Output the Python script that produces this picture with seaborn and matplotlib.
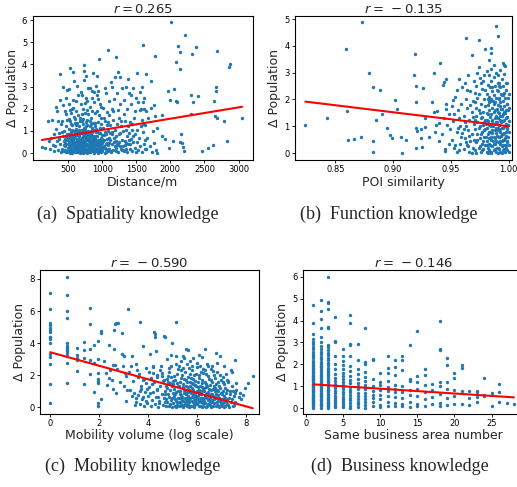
import numpy as np
import pandas as pd
import matplotlib
matplotlib.use("Agg")
import matplotlib.pyplot as plt
import seaborn as sns

# correlation shown above each panel
r_values = [0.265, -0.135, -0.590, -0.146]
# fitted line: (intercept, slope)
fit_lines = [(0.53, 0.000511), (6.23, -5.23), (3.43, -0.422), (1.112, -0.022)]

x_labels = ["Distance/m", "POI similarity", "Mobility volume (log scale)",
            "Same business area number"]
captions = ["(a)  Spatiality knowledge", "(b)  Function knowledge",
            "(c)  Mobility knowledge", "(d)  Business knowledge"]

# (a) distance vs delta population
dist_pts = [
    (2007, 5.92), (2210, 5.35), (2118, 4.82), (2147, 4.56), (2380, 4.8), (2322, 4.47), (2685, 4.62),
    (2080, 4.11), (2143, 3.81), (2880, 4.0), (2855, 3.87), (1595, 4.89), (1086, 4.64), (1198, 4.34),
    (1227, 3.64), (950, 4.26), (737, 3.99), (529, 3.86), (568, 3.66), (379, 3.57), (863, 3.61),
    (926, 3.46), (1517, 3.63), (1648, 3.58), (1720, 3.24), (1779, 4.40), (1968, 2.8), (1992, 2.39),
    (2080, 2.33), (2099, 2.32), (2297, 2.64), (2331, 2.32), (2404, 2.56), (2636, 2.33), (2665, 2.97),
    (2675, 2.79), (2651, 1.67), (2685, 1.58), (2782, 1.43), (3053, 1.58), (2825, 0.54), (2549, 0.24),
    (2467, 0.08), (2621, 0.36), (2036, 0.56), (2138, 0.5), (2172, 0.44), (2162, 0.86), (2182, 0.27),
    (2201, 0.08), (1978, 0.23), (2050, 2.9), (2297, 1.75), (1765, 2.18), (1774, 1.66), (1876, 1.72),
    (1803, 1.14), (1881, 0.77), (1924, 0.65), (1803, 0.0), (1600, 1.31), (1634, 0.2), (117, 0.27),
    (160, 0.25), (200, 1.45), (215, 0.55), (240, 0.2), (260, 1.5), (280, 0.35), (300, 0.85), (290, 0.1),
    (250, 0.7), (310, 0.3), (320, 1.1), (330, 2.1), (340, 0.55), (350, 1.45), (360, 0.15), (370, 0.9),
    (380, 2.4), (390, 0.05), (395, 1.3), (345, 1.9), (365, 0.65), (385, 0.4),
    (405, 0.2), (410, 1.45), (420, 2.15), (425, 0.75), (430, 3.0), (440, 0.1), (445, 1.0), (450, 1.9),
    (455, 0.45), (460, 0.3), (465, 1.2), (470, 2.5), (475, 0.05), (480, 0.6), (485, 1.5), (490, 0.85),
    (495, 0.25), (415, 0.95), (435, 0.35), (478, 2.85), (468, 1.75),
    (505, 0.1), (510, 0.5), (515, 1.1), (520, 2.2), (525, 0.3), (530, 0.75), (535, 1.45), (540, 0.05),
    (545, 0.95), (550, 1.8), (555, 0.4), (560, 0.2), (565, 1.25), (570, 2.4), (575, 0.6), (580, 0.15),
    (585, 1.0), (590, 3.25), (595, 0.35), (502, 0.65), (512, 1.55), (522, 0.0), (532, 0.25), (542, 0.85),
    (552, 2.0), (562, 0.55), (572, 0.1), (582, 1.65), (592, 0.45), (598, 0.9), (548, 1.3), (558, 0.7),
    (568, 0.3), (578, 2.05), (588, 0.5), (518, 2.9), (528, 1.95),
    (605, 0.05), (610, 0.4), (615, 1.0), (620, 1.9), (625, 0.2), (630, 0.65), (635, 1.35), (640, 0.1),
    (645, 0.8), (650, 2.6), (655, 0.35), (660, 0.15), (665, 1.2), (670, 0.55), (675, 0.0), (680, 1.6),
    (685, 0.3), (690, 0.9), (695, 2.2), (602, 0.75), (612, 0.25), (622, 1.1), (632, 0.45), (642, 1.7),
    (652, 0.05), (662, 0.6), (672, 1.45), (682, 0.2), (692, 0.5), (698, 1.05), (618, 2.35), (638, 3.05),
    (658, 0.85), (678, 0.4), (688, 2.75), (648, 0.3), (628, 0.9), (668, 0.1), (608, 1.55), (696, 0.15),
    (705, 0.1), (710, 0.6), (715, 1.3), (720, 2.0), (725, 0.3), (730, 0.85), (735, 3.7), (740, 0.05),
    (745, 1.1), (750, 1.8), (755, 0.45), (760, 0.2), (765, 2.5), (770, 0.7), (775, 0.0), (780, 1.5),
    (785, 0.35), (790, 1.0), (795, 2.95), (702, 0.4), (712, 0.15), (722, 1.55), (732, 0.55), (742, 2.25),
    (752, 0.25), (762, 0.95), (772, 1.95), (782, 0.1), (792, 0.65), (798, 0.3), (718, 0.75), (728, 1.15),
    (738, 0.2), (748, 0.5), (758, 1.4), (768, 0.05), (778, 0.8), (788, 1.75), (708, 2.6), (727, 3.3),
    (757, 3.5), (784, 2.35),
    (805, 0.05), (810, 0.5), (815, 1.2), (820, 2.1), (825, 0.25), (830, 0.8), (835, 1.6), (840, 0.1),
    (845, 2.8), (850, 0.45), (855, 0.95), (860, 0.15), (865, 1.35), (870, 0.6), (875, 2.3), (880, 0.0),
    (885, 1.05), (890, 0.35), (895, 1.8), (802, 0.7), (812, 0.2), (822, 1.45), (832, 0.4), (842, 0.9),
    (852, 2.5), (862, 0.3), (872, 0.1), (882, 0.55), (892, 1.2), (898, 0.2), (818, 2.95), (838, 1.0),
    (858, 1.9), (878, 0.75), (888, 2.75), (828, 0.05), (848, 0.6), (868, 0.25),
    (905, 0.1), (910, 0.5), (915, 1.1), (920, 1.9), (925, 0.3), (930, 0.75), (935, 2.8), (940, 0.0),
    (945, 1.4), (950, 0.4), (955, 0.9), (960, 0.15), (965, 2.2), (970, 0.6), (975, 1.15), (980, 0.05),
    (985, 0.3), (990, 1.6), (995, 0.8), (902, 0.65), (912, 0.2), (922, 1.0), (932, 0.35), (942, 2.45),
    (952, 0.1), (962, 0.55), (972, 0.25), (982, 1.3), (992, 0.45), (908, 3.05), (928, 2.6), (948, 1.7),
    (968, 0.9), (988, 2.1),
    (1005, 0.1), (1010, 0.55), (1015, 1.15), (1020, 2.05), (1025, 0.3), (1030, 0.8), (1035, 1.45),
    (1040, 0.0), (1045, 0.95), (1050, 2.7), (1055, 0.4), (1060, 0.2), (1065, 1.25), (1070, 0.65),
    (1075, 1.85), (1080, 0.1), (1085, 0.35), (1090, 1.0), (1095, 2.35), (1012, 0.25), (1032, 0.6),
    (1052, 0.05), (1072, 0.45), (1092, 0.15), (1022, 1.6), (1062, 0.85), (1082, 1.4), (1042, 2.95),
    (1098, 0.7),
    (1105, 0.2), (1110, 0.6), (1120, 1.25), (1125, 3.2), (1130, 0.05), (1140, 0.85), (1145, 2.0),
    (1150, 0.4), (1160, 1.5), (1165, 0.15), (1170, 2.45), (1180, 0.7), (1185, 0.3), (1190, 1.05),
    (1195, 3.45), (1115, 0.9), (1135, 0.1), (1155, 1.9), (1175, 0.5), (1198, 0.25), (1108, 1.7),
    (1142, 3.0),
    (1205, 0.1), (1210, 0.75), (1220, 1.3), (1225, 2.7), (1230, 0.35), (1240, 0.05), (1245, 1.6),
    (1250, 0.5), (1260, 2.2), (1265, 0.9), (1270, 0.2), (1280, 1.2), (1285, 0.6), (1290, 2.95),
    (1295, 0.15), (1215, 0.4), (1235, 1.95), (1255, 0.3), (1275, 1.45), (1258, 3.45),
    (1305, 0.3), (1310, 1.0), (1320, 2.4), (1325, 0.1), (1330, 0.55), (1340, 1.45), (1345, 0.2),
    (1350, 3.0), (1360, 0.75), (1365, 2.0), (1370, 0.05), (1380, 1.2), (1385, 0.4), (1390, 2.7),
    (1395, 0.9), (1315, 1.75), (1335, 0.35), (1355, 1.05), (1375, 3.35), (1398, 0.6),
    (1405, 0.2), (1410, 1.4), (1420, 0.65), (1430, 2.2), (1440, 0.1), (1445, 1.05), (1450, 2.95),
    (1460, 0.5), (1470, 1.6), (1475, 0.25), (1480, 0.85), (1490, 2.5), (1495, 0.05), (1415, 0.4),
    (1435, 1.3), (1455, 0.75), (1485, 1.9), (1425, 2.6),
    (1505, 0.5), (1510, 1.05), (1520, 2.3), (1530, 0.15), (1540, 0.7), (1550, 1.95), (1560, 0.3),
    (1570, 2.0), (1580, 1.5), (1590, 0.05), (1600, 0.95), (1610, 2.0), (1615, 0.4), (1620, 2.5),
    (1625, 1.25), (1640, 0.2), (1645, 1.9), (1552, 2.75), (1582, 3.0), (1605, 2.3), (1630, 0.6),
    (1565, 1.2), (1660, 0.7), (1680, 1.6), (1700, 0.3), (1720, 2.05), (1730, 0.05), (1750, 1.0),
    (1760, 0.45), (1790, 0.15),
    (520, 0.42), (545, 0.12), (575, 0.78), (605, 0.52), (630, 0.08), (655, 0.62), (680, 0.9),
    (705, 0.28), (725, 0.0), (748, 0.72), (770, 0.38), (795, 0.12), (815, 0.82), (840, 0.55),
    (860, 0.62), (885, 0.15), (905, 0.95), (930, 0.2), (955, 0.52), (975, 0.4), (640, 0.58),
    (690, 0.05), (735, 0.98), (765, 1.2), (800, 0.9), (560, 1.05), (610, 1.25), (660, 1.0),
    (710, 1.45), (760, 0.68), (850, 1.15), (900, 1.35), (470, 0.75), (440, 0.55), (1000, 0.65),
    (1045, 0.22), (1100, 0.45), (1150, 0.95), (1200, 0.55), (1250, 0.85), (1300, 0.15), (1350, 0.45),
    (455, 0.62), (462, 0.12), (476, 0.4), (488, 0.05), (497, 0.7), (508, 0.3), (516, 0.85), (524, 0.15),
    (537, 0.55), (546, 0.35), (553, 0.8), (563, 0.02), (571, 0.45), (583, 0.28), (591, 0.68), (603, 0.18),
    (614, 0.82), (621, 0.38), (633, 0.6), (644, 0.22), (651, 0.48), (663, 0.75), (671, 0.32), (683, 0.58),
    (693, 0.08), (701, 0.7), (713, 0.45), (723, 0.6), (733, 0.12), (743, 0.35), (753, 0.85), (763, 0.42),
    (773, 0.18), (783, 0.6), (793, 0.82), (803, 0.35), (813, 0.6), (823, 0.15), (833, 0.72), (843, 0.3),
    (853, 0.2), (863, 0.78), (873, 0.45), (883, 0.32), (893, 0.65), (903, 0.4), (913, 0.75), (923, 0.1),
    (933, 0.6), (943, 0.32), (963, 0.3), (983, 0.7), (993, 0.15), (615, 0.05), (735, 0.5), (655, 1.05),
    (785, 1.25), (545, 0.65), (725, 1.0), (840, 1.3), (600, 1.35), (700, 1.75),
]

# (b) POI similarity vs delta population
poi_pts = [
    (0.824, 1.05), (0.843, 1.31), (0.859, 3.9), (0.860, 1.56), (0.861, 0.5), (0.866, 0.52), (0.872, 0.59),
    (0.873, 4.9), (0.879, 2.99), (0.883, 2.47), (0.883, 0.44), (0.883, 0.05), (0.885, 1.22), (0.889, 2.36),
    (0.890, 1.47), (0.895, 0.94), (0.897, 0.66), (0.899, 0.56), (0.902, 1.97), (0.903, 1.65), (0.907, 0.6),
    (0.908, 0.0), (0.911, 0.5), (0.918, 2.9), (0.919, 3.69), (0.920, 2.52), (0.920, 1.9), (0.920, 0.94),
    (0.921, 0.81), (0.920, 0.19), (0.924, 0.91), (0.924, 0.56), (0.926, 2.44), (0.928, 1.31), (0.928, 0.97),
    (0.925, 0.24), (0.931, 0.6), (0.934, 1.92), (0.935, 2.99), (0.935, 1.55), (0.937, 1.04), (0.938, 1.56),
    (0.940, 1.11), (0.941, 3.38), (0.943, 2.53), (0.944, 2.65), (0.945, 0.16), (0.945, 0.06), (0.946, 2.78),
    (0.946, 1.82), (0.946, 1.66), (0.947, 1.04), (0.948, 1.47), (0.952, 1.98), (0.955, 2.36),
    (0.989, 4.75), (0.991, 4.36), (0.963, 4.3), (0.974, 4.21), (0.968, 3.68), (0.980, 3.9), (0.985, 3.93),
    (0.985, 3.75), (0.995, 3.38), (0.996, 3.3), (0.987, 3.28), (0.983, 3.47),
    (0.936, 0.8), (0.940, 0.45), (0.942, 0.7), (0.948, 0.35), (0.944, 1.3), (0.949, 0.9),
    (0.951, 0.5), (0.952, 1.2), (0.953, 0.2), (0.954, 2.1), (0.955, 0.8), (0.956, 1.6), (0.957, 0.1),
    (0.957, 2.75), (0.958, 0.35), (0.958, 1.0), (0.959, 1.85), (0.959, 0.6), (0.960, 2.45), (0.953, 1.45),
    (0.955, 0.05), (0.956, 0.95), (0.951, 1.75), (0.954, 0.3), (0.957, 1.3), (0.960, 0.75),
    (0.961, 0.15), (0.961, 1.4), (0.962, 2.6), (0.962, 0.55), (0.963, 1.0), (0.963, 2.0), (0.964, 0.3),
    (0.964, 1.7), (0.965, 0.85), (0.965, 2.9), (0.966, 0.05), (0.966, 1.25), (0.967, 0.45), (0.967, 2.3),
    (0.968, 1.55), (0.968, 0.7), (0.969, 0.2), (0.969, 1.95), (0.970, 1.1), (0.970, 2.7), (0.961, 0.9),
    (0.963, 0.4), (0.964, 2.35), (0.966, 0.65), (0.967, 1.8), (0.968, 0.0), (0.969, 1.35), (0.962, 1.15),
    (0.965, 0.25), (0.970, 0.5),
    (0.971, 0.1), (0.971, 0.9), (0.971, 1.9), (0.972, 0.4), (0.972, 1.4), (0.972, 2.5), (0.973, 0.7),
    (0.973, 1.15), (0.973, 3.0), (0.974, 0.2), (0.974, 1.6), (0.974, 2.2), (0.975, 0.55), (0.975, 1.0),
    (0.975, 2.8), (0.976, 0.05), (0.976, 1.3), (0.976, 1.85), (0.977, 0.35), (0.977, 0.8), (0.977, 2.4),
    (0.978, 1.05), (0.978, 1.55), (0.978, 0.15), (0.979, 0.6), (0.979, 2.0), (0.979, 2.9), (0.980, 0.3),
    (0.980, 1.25), (0.980, 1.75), (0.971, 1.25), (0.972, 0.0), (0.973, 2.05), (0.974, 0.95), (0.975, 0.25),
    (0.976, 2.6), (0.977, 1.35), (0.978, 0.45), (0.979, 1.15), (0.980, 2.35), (0.971, 2.25), (0.973, 0.5),
    (0.975, 1.5), (0.977, 0.1), (0.979, 0.85), (0.976, 0.7), (0.974, 3.2), (0.978, 2.7), (0.972, 1.7),
    (0.980, 0.9),
    (0.981, 0.05), (0.981, 0.45), (0.981, 0.95), (0.981, 1.5), (0.981, 2.2), (0.981, 3.05),
    (0.982, 0.2), (0.982, 0.7), (0.982, 1.2), (0.982, 1.8), (0.982, 2.55),
    (0.983, 0.1), (0.983, 0.55), (0.983, 1.05), (0.983, 1.6), (0.983, 2.1), (0.983, 2.9),
    (0.984, 0.3), (0.984, 0.8), (0.984, 1.35), (0.984, 1.95), (0.984, 2.45),
    (0.985, 0.0), (0.985, 0.5), (0.985, 1.0), (0.985, 1.45), (0.985, 2.0), (0.985, 2.7), (0.985, 3.15),
    (0.986, 0.25), (0.986, 0.75), (0.986, 1.25), (0.986, 1.7), (0.986, 2.3),
    (0.987, 0.1), (0.987, 0.6), (0.987, 1.1), (0.987, 1.55), (0.987, 2.15), (0.987, 2.85),
    (0.988, 0.35), (0.988, 0.85), (0.988, 1.3), (0.988, 1.9), (0.988, 2.5),
    (0.989, 0.05), (0.989, 0.45), (0.989, 0.95), (0.989, 1.4), (0.989, 2.05), (0.989, 3.0),
    (0.990, 0.2), (0.990, 0.65), (0.990, 1.15), (0.990, 1.65), (0.990, 2.35),
    (0.9815, 0.3), (0.9825, 1.45), (0.9835, 0.8), (0.9845, 0.05), (0.9855, 1.2), (0.9865, 0.45),
    (0.9875, 1.85), (0.9885, 0.15), (0.9895, 1.15), (0.9805, 0.6), (0.9815, 1.25), (0.9825, 0.0),
    (0.9835, 1.9), (0.9845, 0.6), (0.9855, 2.45), (0.9865, 1.0), (0.9875, 0.35), (0.9885, 1.6),
    (0.9895, 0.75), (0.9835, 0.35), (0.9865, 1.95), (0.9885, 0.55), (0.9855, 0.85), (0.9825, 2.0),
    (0.9805, 1.1),
    (0.991, 0.0), (0.991, 0.4), (0.991, 0.85), (0.991, 1.3), (0.991, 1.8), (0.991, 2.3), (0.991, 2.9),
    (0.992, 0.15), (0.992, 0.6), (0.992, 1.05), (0.992, 1.5), (0.992, 2.0), (0.992, 2.6),
    (0.993, 0.05), (0.993, 0.45), (0.993, 0.9), (0.993, 1.4), (0.993, 1.9), (0.993, 2.45), (0.993, 3.1),
    (0.994, 0.25), (0.994, 0.7), (0.994, 1.2), (0.994, 1.65), (0.994, 2.15), (0.994, 2.75),
    (0.995, 0.1), (0.995, 0.5), (0.995, 0.95), (0.995, 1.45), (0.995, 1.95), (0.995, 2.5),
    (0.996, 0.3), (0.996, 0.75), (0.996, 1.25), (0.996, 1.75), (0.996, 2.25), (0.996, 2.95),
    (0.997, 0.05), (0.997, 0.55), (0.997, 1.0), (0.997, 1.5), (0.997, 2.05), (0.997, 3.25),
    (0.998, 0.2), (0.998, 0.65), (0.998, 1.1), (0.998, 1.6), (0.998, 2.35),
    (0.999, 0.1), (0.999, 0.45), (0.999, 0.9), (0.999, 1.35), (0.999, 1.85), (0.999, 2.6),
    (1.000, 0.3), (1.000, 0.8), (1.000, 1.2), (1.000, 1.7), (1.000, 2.2), (1.000, 0.05),
    (0.9905, 0.2), (0.9915, 1.05), (0.9925, 0.35), (0.9935, 1.15), (0.9945, 0.0), (0.9955, 0.7),
    (0.9965, 0.15), (0.9975, 0.8), (0.9985, 0.4), (0.9995, 1.05), (0.9905, 1.55), (0.9915, 0.6),
    (0.9925, 1.75), (0.9935, 0.65), (0.9945, 1.4), (0.9955, 0.3), (0.9965, 1.55), (0.9975, 0.3),
    (0.9985, 1.85), (0.9995, 0.6), (0.9905, 2.6), (0.9915, 2.05), (0.9925, 1.25), (0.9935, 2.2),
    (0.9945, 0.45), (0.9955, 2.15), (0.9965, 1.0), (0.9975, 1.3), (0.9985, 0.95), (0.9995, 2.05),
    (0.9905, 0.95), (0.9925, 0.8), (0.9945, 0.95), (0.9965, 0.5), (0.9985, 1.35), (0.9915, 2.5),
    (0.9955, 1.2), (0.9975, 2.6), (0.9995, 1.6), (0.9935, 1.65),
]

# (c) mobility volume (log) vs delta population
mob_pts = [
    (0.0, 7.15), (0.0, 6.11), (0.0, 5.24), (0.0, 5.11), (0.0, 4.97), (0.0, 4.83), (0.0, 4.7), (0.0, 4.41),
    (0.0, 4.35), (0.0, 4.24), (0.0, 4.03), (0.0, 3.3), (0.0, 3.16), (0.0, 2.72), (0.0, 1.48), (0.0, 0.29),
    (0.693, 8.15), (0.693, 7.03), (0.693, 5.99), (0.693, 5.55), (0.693, 3.99), (0.693, 3.83), (0.693, 3.72),
    (0.693, 3.62), (0.693, 3.51), (0.693, 3.37), (0.693, 3.2), (0.693, 2.79), (0.693, 1.54),
    (1.099, 3.72), (1.099, 3.24), (1.099, 3.1), (1.099, 2.95), (1.099, 2.27),
    (1.386, 4.07), (1.386, 3.56), (1.386, 3.1), (1.386, 1.48),
    (1.609, 6.2), (1.609, 5.17), (1.609, 3.62), (1.609, 2.93), (1.609, 2.06),
    (1.792, 3.87), (1.792, 2.79), (1.792, 0.96),
    (1.946, 4.12), (1.946, 3.0), (1.946, 2.12), (1.946, 1.75), (1.946, 1.64), (1.946, 1.5), (1.946, 0.29),
    (1.946, 0.06), (2.079, 4.74), (2.079, 4.66), (2.079, 0.5),
    (2.28, 2.16), (2.3, 1.4), (2.38, 3.87), (2.52, 1.7), (2.6, 4.8), (2.6, 3.62), (2.66, 5.17), (2.69, 5.28),
    (2.77, 5.28), (2.57, 1.12), (2.64, 2.66), (2.74, 2.37), (2.93, 4.66), (2.93, 3.3), (3.01, 3.2),
    (2.98, 2.58), (3.04, 2.16), (3.09, 1.95), (3.12, 1.08), (3.09, 0.4), (3.16, 6.11), (3.32, 3.2),
    (3.31, 2.58), (3.37, 1.64), (3.42, 0.91), (3.5, 2.68), (3.56, 2.33), (3.61, 2.06), (3.5, 0.6),
    (3.47, 0.12), (3.65, 5.32), (3.66, 1.02), (3.72, 1.33), (3.8, 3.83), (3.84, 1.75), (3.8, 0.64),
    (3.91, 0.4), (3.95, 1.12), (4.02, 2.2), (4.09, 3.3), (4.07, 0.91), (4.14, 1.43), (4.18, 2.58),
    (4.21, 2.16), (4.24, 4.68), (4.28, 4.55), (4.29, 4.39), (4.32, 3.51), (4.35, 1.89), (4.37, 1.12),
    (4.41, 0.64), (4.43, 0.29), (4.52, 2.58), (4.56, 2.16), (4.59, 1.64), (4.65, 4.45), (4.67, 4.41),
    (4.7, 0.81), (4.73, 1.33), (4.77, 2.99), (4.81, 1.95), (4.86, 2.47), (4.94, 3.24), (4.97, 4.03),
    (5.0, 1.64), (5.14, 5.34),
    (5.54, 3.66), (5.61, 3.58), (5.84, 3.04), (6.09, 3.24), (6.34, 3.66), (6.19, 3.16), (6.43, 2.58),
    (6.77, 3.37), (6.95, 3.2), (7.11, 2.58), (6.81, 2.79), (6.57, 2.37), (6.23, 2.16), (5.71, 2.89),
    (5.41, 2.47), (5.79, 2.58), (5.27, 2.58), (5.14, 3.2), (5.44, 3.2), (6.0, 2.79),
    (8.27, 1.95), (8.08, 1.54), (7.86, 0.75), (7.75, 0.91), (7.59, 1.5), (7.53, 2.93), (7.42, 2.2),
    (7.04, 1.89), (7.28, 1.64), (7.56, 0.91), (7.7, 0.67), (7.97, 1.23), (7.81, 0.5),
    (2.55, 2.62), (2.41, 1.81), (3.25, 1.1), (3.35, 0.7), (3.0, 1.3), (2.85, 1.6), (2.7, 0.9), (3.2, 2.2),
    (2.45, 2.3), (2.2, 2.9),
    (3.52, 0.3), (3.58, 0.75), (3.65, 0.2), (3.7, 1.15), (3.75, 0.5), (3.82, 0.05), (3.86, 0.95),
    (3.9, 1.5), (3.95, 0.25), (4.0, 0.7), (4.05, 1.25), (4.1, 0.1), (4.15, 0.45), (4.2, 0.95), (4.25, 1.55),
    (4.28, 0.2), (4.33, 0.65), (4.38, 1.05), (4.42, 0.0), (4.46, 0.4), (4.5, 1.35), (4.55, 0.8),
    (4.6, 0.15), (4.63, 1.7), (4.66, 0.55), (4.7, 1.0), (4.68, 0.3), (3.6, 1.9), (3.78, 1.7), (4.12, 1.8),
    (4.36, 2.0), (4.48, 2.3), (4.2, 2.5), (3.92, 2.45), (4.58, 1.95),
    (4.72, 0.1), (4.74, 0.5), (4.76, 1.2), (4.78, 0.3), (4.8, 0.8), (4.82, 1.6), (4.84, 0.05), (4.86, 0.65),
    (4.88, 1.05), (4.9, 0.2), (4.92, 1.9), (4.94, 0.45), (4.96, 1.35), (4.98, 0.0), (5.0, 0.9), (4.85, 2.2),
    (4.95, 2.6), (4.75, 1.75), (4.9, 1.5), (4.98, 0.55),
    (5.02, 0.25), (5.04, 0.7), (5.06, 1.15), (5.08, 0.05), (5.1, 1.7), (5.12, 0.4), (5.14, 0.95),
    (5.16, 2.1), (5.18, 0.15), (5.2, 0.6), (5.22, 1.3), (5.24, 0.3), (5.05, 1.95), (5.13, 0.0), (5.21, 1.0),
    (5.09, 0.5), (5.17, 1.5), (5.23, 2.4), (5.11, 0.8), (5.19, 0.35), (5.03, 1.45), (5.15, 2.7),
    (5.26, 0.1), (5.28, 0.55), (5.3, 1.0), (5.32, 1.55), (5.34, 0.2), (5.36, 0.75), (5.38, 2.0),
    (5.4, 0.05), (5.42, 1.25), (5.44, 0.4), (5.46, 0.9), (5.48, 1.75), (5.27, 1.3), (5.31, 0.3),
    (5.35, 2.3), (5.39, 0.65), (5.43, 0.0), (5.47, 1.1), (5.29, 0.85), (5.33, 1.85), (5.37, 0.45),
    (5.41, 1.45), (5.45, 0.15), (5.49, 0.6), (5.35, 2.9), (5.46, 3.05),
    (5.51, 0.3), (5.53, 0.8), (5.55, 1.35), (5.57, 0.05), (5.59, 0.6), (5.61, 1.9), (5.63, 0.2),
    (5.65, 1.05), (5.67, 0.45), (5.69, 1.6), (5.71, 0.1), (5.73, 0.9), (5.52, 2.2), (5.54, 0.15),
    (5.56, 1.0), (5.58, 1.6), (5.6, 0.4), (5.62, 1.25), (5.64, 0.7), (5.66, 2.45), (5.68, 0.0), (5.7, 1.3),
    (5.72, 0.55), (5.74, 1.85), (5.55, 0.5), (5.63, 0.95), (5.71, 2.1), (5.59, 2.7), (5.66, 0.3),
    (5.53, 1.7),
    (5.76, 0.1), (5.78, 0.65), (5.8, 1.2), (5.82, 0.3), (5.84, 1.75), (5.86, 0.0), (5.88, 0.85), (5.9, 1.4),
    (5.92, 0.45), (5.94, 2.05), (5.96, 0.2), (5.98, 1.0), (5.77, 1.5), (5.79, 0.4), (5.81, 2.3),
    (5.83, 0.75), (5.85, 1.1), (5.87, 0.55), (5.89, 0.15), (5.91, 1.65), (5.93, 0.9), (5.95, 1.3),
    (5.97, 0.6), (5.99, 2.5), (5.8, 0.05), (5.9, 0.3), (5.86, 2.0), (5.76, 0.95), (5.94, 0.7), (5.82, 1.45),
    (6.01, 0.2), (6.03, 0.7), (6.05, 1.25), (6.07, 0.05), (6.09, 1.8), (6.11, 0.45), (6.13, 0.95),
    (6.15, 2.2), (6.17, 0.3), (6.19, 1.5), (6.21, 0.6), (6.23, 1.05), (6.02, 1.55), (6.04, 0.35),
    (6.06, 2.0), (6.08, 0.8), (6.1, 0.1), (6.12, 1.35), (6.14, 0.55), (6.16, 1.0), (6.18, 0.0), (6.2, 1.7),
    (6.22, 0.25), (6.24, 2.4), (6.05, 0.5), (6.15, 0.85), (6.1, 2.6), (6.21, 1.25), (6.07, 1.1),
    (6.19, 0.4),
    (6.26, 0.1), (6.28, 0.55), (6.3, 1.0), (6.32, 1.6), (6.34, 0.25), (6.36, 0.8), (6.38, 2.1),
    (6.4, 0.05), (6.42, 1.3), (6.44, 0.45), (6.46, 0.95), (6.48, 1.75), (6.27, 1.2), (6.29, 0.35),
    (6.31, 2.35), (6.33, 0.7), (6.35, 0.0), (6.37, 1.45), (6.39, 0.6), (6.41, 0.9), (6.43, 1.95),
    (6.45, 0.2), (6.47, 0.75), (6.49, 1.15), (6.3, 0.4), (6.4, 2.7), (6.36, 1.25), (6.46, 0.5),
    (6.51, 0.15), (6.53, 0.6), (6.55, 1.05), (6.57, 1.7), (6.59, 0.3), (6.61, 0.85), (6.63, 2.25),
    (6.65, 0.05), (6.67, 1.3), (6.69, 0.5), (6.71, 1.0), (6.73, 1.85), (6.52, 1.4), (6.54, 0.3),
    (6.56, 0.8), (6.58, 0.0), (6.6, 1.55), (6.62, 0.4), (6.64, 1.15), (6.66, 0.7), (6.68, 2.0), (6.7, 0.25),
    (6.72, 0.65), (6.74, 1.2), (6.62, 2.6), (6.55, 0.45),
    (6.76, 0.1), (6.78, 0.55), (6.8, 1.1), (6.82, 0.3), (6.84, 1.6), (6.86, 0.75), (6.88, 0.05), (6.9, 1.3),
    (6.92, 0.45), (6.94, 2.0), (6.96, 0.2), (6.98, 0.9), (6.77, 1.45), (6.79, 0.85), (6.81, 0.15),
    (6.83, 2.2), (6.85, 0.4), (6.87, 1.0), (6.89, 0.6), (6.91, 0.0), (6.93, 1.2), (6.95, 0.5), (6.97, 1.7),
    (6.99, 0.3),
    (7.01, 0.1), (7.03, 0.5), (7.05, 1.0), (7.07, 0.25), (7.09, 1.45), (7.11, 0.7), (7.13, 0.05),
    (7.15, 1.2), (7.17, 0.4), (7.19, 0.9), (7.21, 1.7), (7.23, 0.2), (7.02, 0.8), (7.06, 1.6), (7.1, 0.35),
    (7.14, 0.6), (7.18, 2.05), (7.22, 0.5), (7.08, 0.0), (7.2, 1.1),
    (7.26, 0.15), (7.3, 0.55), (7.34, 1.0), (7.38, 0.3), (7.42, 1.3), (7.46, 0.05), (7.5, 0.7),
    (7.54, 0.35), (7.58, 1.1), (7.28, 1.6), (7.36, 0.8), (7.44, 0.5), (7.52, 0.15), (7.32, 0.0),
    (7.4, 2.3), (7.48, 1.0),
]

# (d) same business area number vs delta population, one list per area count
biz_counts = list(range(1, 29))
biz_dpop = [
    [0.02, 0.07, 0.13, 0.18, 0.22, 0.28, 0.33, 0.37, 0.41, 0.47, 0.52, 0.58, 0.61, 0.66, 0.73, 0.77,
     0.82, 0.88, 0.93, 0.97, 1.03, 1.08, 1.12, 1.18, 1.24, 1.29, 1.33, 1.39, 1.44, 1.48, 1.53, 1.59,
     1.66, 1.72, 1.78, 1.85, 1.93, 1.99, 2.08, 2.16, 2.27, 2.38, 2.46, 2.55, 2.68, 2.79, 2.91, 3.02,
     3.14, 3.37, 3.87, 4.7],
    [0.03, 0.09, 0.14, 0.21, 0.26, 0.31, 0.38, 0.43, 0.49, 0.54, 0.6, 0.67, 0.71, 0.78, 0.84, 0.91,
     0.96, 1.02, 1.09, 1.16, 1.23, 1.31, 1.38, 1.46, 1.52, 1.61, 1.69, 1.77, 1.86, 1.94, 2.03, 2.12,
     2.24, 2.35, 2.47, 2.58, 2.7, 2.84, 3.04, 3.27, 3.65, 4.06, 4.44, 4.94],
    [0.01, 0.08, 0.12, 0.19, 0.24, 0.3, 0.36, 0.42, 0.48, 0.53, 0.59, 0.64, 0.72, 0.79, 0.83, 0.9,
     0.98, 1.04, 1.11, 1.19, 1.26, 1.34, 1.42, 1.51, 1.58, 1.67, 1.76, 1.84, 1.95, 2.06, 2.18, 2.31,
     2.42, 2.53, 2.65, 2.77, 2.9, 3.68, 3.72, 4.51, 4.8, 4.85, 5.97],
    [0.04, 0.11, 0.2, 0.29, 0.37, 0.46, 0.55, 0.68, 0.8, 0.92, 1.0, 1.12, 1.25, 1.4, 1.55, 1.78, 2.0,
     2.39, 3.0, 3.07, 4.18],
    [0.05, 0.13, 0.22, 0.33, 0.41, 0.52, 0.63, 0.75, 0.86, 0.97, 1.08, 1.2, 1.33, 1.47, 1.62, 1.8,
     1.97, 2.17, 2.39, 2.72],
    [0.02, 0.12, 0.25, 0.36, 0.48, 0.6, 0.73, 0.85, 0.99, 1.14, 1.3, 1.48, 1.7, 1.92, 2.4, 2.9, 2.95,
     3.88, 4.27],
    [0.06, 0.18, 0.3, 0.44, 0.58, 0.71, 0.86, 1.0, 1.15, 1.33, 1.55, 1.8, 2.2, 2.93],
    [0.03, 0.16, 0.29, 0.42, 0.57, 0.7, 0.88, 1.05, 1.25, 1.42, 1.65, 2.0, 2.1, 3.66],
    [0.1, 0.28, 0.45, 0.62, 0.8, 1.0, 1.35, 2.2, 2.25],
    [0.05, 0.15, 0.4, 0.62, 0.85, 1.05, 1.2, 1.6],
    [0.12, 0.3, 0.55, 0.8, 0.95, 1.25, 1.6, 1.85, 2.4],
    [0.08, 0.25, 0.5, 0.72, 0.9, 1.05, 1.5, 1.9, 2.2],
    [0.1, 0.2, 0.45, 0.75, 1.0, 1.75, 2.2, 2.4],
    [0.05, 0.3, 0.6, 0.85, 1.25, 1.35, 2.9],
    [0.1, 0.18, 0.55, 0.9, 1.2, 1.45, 3.5],
    [0.12, 0.4, 0.75, 1.05, 1.5, 1.8],
    [0.2, 0.5, 0.85, 1.1],
    [0.1, 0.25, 0.65, 1.0, 1.2, 2.65, 2.7, 4.0],
    [0.15, 0.45, 0.9, 1.2, 1.95, 2.3],
    [0.2, 0.55, 0.85, 1.4, 1.6],
    [0.2, 0.8, 1.85, 1.95],
    [0.15, 0.45, 0.8],
    [0.3, 0.5, 0.75, 0.8],
    [0.55, 0.6, 1.4],
    [0.1, 0.7],
    [0.3, 0.75, 1.1],
    [0.25],
    [0.2],
]

biz_x = [c for c, ys in zip(biz_counts, biz_dpop) for _ in ys]
biz_y = [y for ys in biz_dpop for y in ys]

frames = [
    pd.DataFrame(dist_pts, columns=["x", "y"]),
    pd.DataFrame(poi_pts, columns=["x", "y"]),
    pd.DataFrame(mob_pts, columns=["x", "y"]),
    pd.DataFrame({"x": biz_x, "y": biz_y}),
]

sns.set_style("ticks", {"axes.edgecolor": "black", "xtick.color": "black", "ytick.color": "black"})
plt.rcParams["font.family"] = ["DejaVu Sans"]

W, H = 517, 487
fig = plt.figure(figsize=(W / 100, H / 100), dpi=100)

# axes boxes in pixels: left, top, right, bottom
boxes = [(32.7, 16, 252.7, 159.7), (295, 16, 512, 159.7),
         (40, 270.3, 259.3, 413.5), (303, 270.3, 524, 413.5)]
xlims = [(-18, 3208), (0.815, 1.003), (-0.42, 8.54), (-0.36, 29.35)]
ylims = [(-0.30, 6.19), (-0.25, 5.12), (-0.39, 8.54), (-0.24, 6.29)]
xticks = [[500, 1000, 1500, 2000, 2500, 3000], [0.85, 0.90, 0.95, 1.00],
          [0, 2, 4, 6, 8], [0, 5, 10, 15, 20, 25]]
caption_pos = [(128, 214), (389, 214), (133, 466), (400, 466)]

for i, df in enumerate(frames):
    l, t, r, b = boxes[i]
    ax = fig.add_axes([l / W, 1 - b / H, (r - l) / W, (b - t) / H])
    sns.scatterplot(data=df, x="x", y="y", ax=ax, s=6, linewidth=0, color="#1f77b4")
    a0, a1 = fit_lines[i]
    xs = np.array([df["x"].min(), df["x"].max()])
    sns.lineplot(x=xs, y=a0 + a1 * xs, ax=ax, color="red", linewidth=1.5)
    ax.set_xlim(*xlims[i])
    ax.set_ylim(*ylims[i])
    ax.set_xticks(xticks[i])
    if i == 1:
        ax.set_xticklabels(["0.85", "0.90", "0.95", "1.00"])
    ax.tick_params(labelsize=6, length=2.5, width=0.6, pad=1.5)
    for sp in ax.spines.values():
        sp.set_linewidth(0.8)
    ax.set_xlabel(x_labels[i], fontsize=9, labelpad=1)
    ax.set_ylabel("Δ Population", fontsize=9, labelpad=2)
    rv = r_values[i]
    num = f"{rv:.3f}" if rv >= 0 else f"\\,{rv:.3f}"
    ax.set_title(f"$r = {num}$", fontsize=9.5, pad=2)
    cx, cy = caption_pos[i]
    fig.text(cx / W, 1 - cy / H, captions[i], ha="center", va="center",
             fontsize=13, family=["Liberation Serif"])

fig.savefig("out.png", dpi=100)
